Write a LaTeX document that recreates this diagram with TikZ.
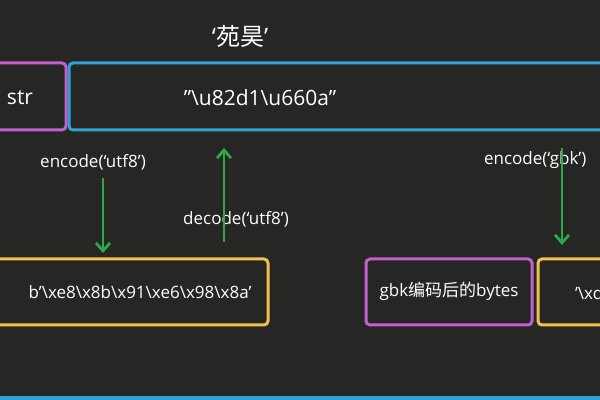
\documentclass[tikz,border=0pt]{standalone}
\usepackage{fontspec}
\setmainfont{Open Sans}
\newfontfamily\cj{Noto Sans CJK SC}
\usetikzlibrary{arrows.meta}
\definecolor{bg}{HTML}{262624}
\definecolor{pur}{HTML}{C35FD0}
\definecolor{blu}{HTML}{2FA3D6}
\definecolor{yel}{HTML}{F2C14E}
\definecolor{grn}{HTML}{2DA84A}
\newcommand{\sq}{\char"27 }
\newcommand{\dq}{\char"22 }
\tikzset{box/.style={draw,line width=1.5pt,rounded corners=2pt},
 lbl/.style={text=white,font=\fontsize{8.5}{10}\selectfont},
 arr/.style={grn,line width=1.4pt,-{Straight Barb[length=4pt,width=7pt]}}}
\begin{document}
\begin{tikzpicture}[x=0.5pt,y=-0.5pt]
\useasboundingbox (0,0) rectangle (600,400);
\clip (0,0) rectangle (600,400);
\fill[bg] (0,0) rectangle (600,400);
\node[lbl,font=\fontsize{12}{14}\selectfont] (t) at (240,36) {‘{\cj 苑昊}’};
\draw[box,pur] (-5,63) rectangle (66,130);
\node[lbl,font=\fontsize{10.5}{12}\selectfont] (s) at (20,98) {str};
\draw[box,blu] (69,63) rectangle (610,130);
\node[lbl,font=\fontsize{10.5}{12}\selectfont] (u) at (260,98) {\dq\textbackslash u82d1\textbackslash u660a\dq};
\draw[box,yel] (-5,259) rectangle (268,325);
\node[lbl] (b) at (140,292) {b\sq\textbackslash xe8\textbackslash x8b\textbackslash x91\textbackslash xe6\textbackslash x98\textbackslash x8a\sq};
\draw[box,pur] (366,259) rectangle (532,325);
\node[lbl] (g) at (449,291) {gbk{\cj 编码后的}bytes};
\draw[box,yel] (538,259) rectangle (610,325);
\node[lbl,anchor=west] (x) at (568,293) {\sq\textbackslash xd};
\node[lbl] (e1) at (93,162) {encode(‘utf8’)};
\node[lbl] (d1) at (236,219) {decode(‘utf8’)};
\node[lbl,anchor=west] (e2) at (477,160) {encode(‘gbk’)};
\node[lbl,anchor=west] (d2) at (594,224) {decode};
\coordinate (a1s) at (103,178); \coordinate (a1e) at (103,253);
\coordinate (a2s) at (224,242); \coordinate (a2e) at (224,148);
\coordinate (a3s) at (562,148); \coordinate (a3e) at (562,245);
\draw[arr] (a1s) -- (a1e);
\draw[arr] (a2s) -- (a2e);
\draw[arr] (a3s) -- (a3e);
\fill[blu] (0,396) rectangle (600,400);
\end{tikzpicture}
\end{document}
